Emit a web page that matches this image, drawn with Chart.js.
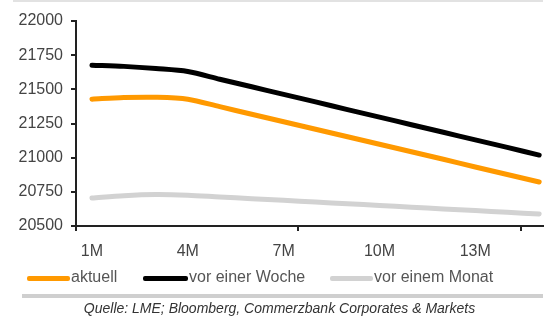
<!DOCTYPE html>
<html>
<head>
<meta charset="utf-8">
<script src="https://cdn.jsdelivr.net/npm/chart.js@4"></script>
<style>
    body { margin: 0; background: #fff; }
    #wrap { position: relative; width: 559px; height: 321px; overflow: hidden; font-family: "Liberation Sans", Arial, sans-serif; }
    #chart { position: absolute; left: 0; top: 0; }
    .topline { position: absolute; left: 13px; top: 0; width: 530px; height: 2px; background: #e2e2e2; }
    .legend { position: absolute; top: 268px; left: 0; font-size: 16px; color: #555; }
    .legend span.item { position: absolute; white-space: nowrap; }
    .legend span.swatch { position: absolute; top: 8px; height: 5px; border-radius: 2px; }
    .sep { position: absolute; left: 22px; top: 294px; width: 521px; height: 4px; background: #cfcfcf; }
    .source { position: absolute; left: 0; width: 559px; top: 300px; text-align: center; font-size: 14px; font-style: italic; color: #333; }
</style>
</head>
<body>
<div id="wrap">
    <canvas id="chart" width="559" height="321"></canvas>
    <div class="topline"></div>
    <div class="legend" id="legend"></div>
    <div class="sep"></div>
    <div class="source">Quelle: LME; Bloomberg, Commerzbank Corporates &amp; Markets</div>
</div>
<script>
/* 데이터 */
var months = [1, 2, 3, 4, 5, 6, 7, 8, 9, 10, 11, 12, 13, 14, 15];
var aktuell = [21428, 21440, 21442, 21428, 21373, 21318, 21263, 21208, 21153, 21098, 21043, 20988, 20932, 20877, 20822];
var vorWoche = [21677, 21668, 21652, 21630, 21574, 21519, 21463, 21408, 21352, 21297, 21241, 21186, 21130, 21075, 21019];
var vorMonat = [20705, 20722, 20730, 20725, 20712, 20700, 20688, 20675, 20663, 20650, 20638, 20625, 20613, 20600, 20588];
var xLabels = [1, 4, 7, 10, 13];
var xMarks = [0.5, 7.45, 14.43];
var yTicks = [20500, 20750, 21000, 21250, 21500, 21750, 22000];

var seriesNames = ["aktuell", "vor einer Woche", "vor einem Monat"];
var seriesColors = ["#ff9900", "#000000", "#d2d2d2"];
var seriesData = [aktuell, vorWoche, vorMonat];

/* 범례 */
var legendPos = [[27, 71], [143, 189], [330, 374]];
var legend = document.getElementById("legend");
for (var i = 0; i < 3; i++) {
    var sw = document.createElement("span");
    sw.className = "swatch";
    sw.style.left = legendPos[i][0] + "px";
    sw.style.width = (legendPos[i][1] - legendPos[i][0] - 1) + "px";
    sw.style.background = seriesColors[i];
    legend.appendChild(sw);
    var tx = document.createElement("span");
    tx.className = "item";
    tx.style.left = legendPos[i][1] + "px";
    tx.innerHTML = seriesNames[i];
    legend.appendChild(tx);
}

function toPoints(arr) {
    return arr.map(function(v, i) { return { x: months[i], y: v }; });
}

var datasets = [];
for (var i = 0; i < 3; i++) {
    datasets.push({
        label: seriesNames[i],
        data: toPoints(seriesData[i]),
        borderColor: seriesColors[i],
        borderWidth: 5,
        pointRadius: 0,
        tension: 0.3,
        borderCapStyle: "round",
        order: 3 - i
    });
}

var X_MIN = 0.5, X_MAX = 15.12;

var ctx = document.getElementById("chart").getContext("2d");
new Chart(ctx, {
    type: "line",
    data: { datasets: datasets },
    options: {
        responsive: false,
        animation: false,
        layout: { padding: { left: 0, right: 16, top: 21, bottom: 55 } },
        plugins: { legend: { display: false }, tooltip: { enabled: false } },
        scales: {
            /* 눈금 표시만 (x축 선 + 틱) */
            xm: {
                type: "linear",
                position: "bottom",
                weight: 0,
                min: X_MIN,
                max: X_MAX,
                afterBuildTicks: function(scale) {
                    scale.ticks = xMarks.map(function(v) { return { value: v }; });
                },
                afterFit: function(scale) { scale.height = 5; },
                ticks: { display: false, autoSkip: false },
                grid: {
                    drawOnChartArea: false,
                    tickLength: 5,
                    lineWidth: 2,
                    color: "#222"
                },
                border: { color: "#222", width: 2 }
            },
            x: {
                type: "linear",
                position: "bottom",
                weight: 1,
                min: X_MIN,
                max: X_MAX,
                afterBuildTicks: function(scale) {
                    scale.ticks = xLabels.map(function(v) { return { value: v }; });
                },
                afterFit: function(scale) { scale.height = 35; },
                ticks: {
                    autoSkip: false,
                    maxRotation: 0,
                    padding: 3,
                    color: "#444",
                    font: { family: "Liberation Sans", size: 16 },
                    callback: function(v) { return v + "M"; }
                },
                grid: { display: false },
                border: { display: false }
            },
            y: {
                min: 20500,
                max: 22000,
                afterBuildTicks: function(scale) {
                    scale.ticks = yTicks.map(function(v) { return { value: v }; });
                },
                afterFit: function(scale) { scale.width = 76; },
                ticks: {
                    padding: 8,
                    color: "#444",
                    font: { family: "Liberation Sans", size: 16 },
                    callback: function(v) { return String(v); }
                },
                grid: {
                    drawOnChartArea: false,
                    tickLength: 5,
                    lineWidth: 2,
                    color: "#222"
                },
                border: { color: "#222", width: 2 }
            }
        }
    }
});
</script>
</body>
</html>
